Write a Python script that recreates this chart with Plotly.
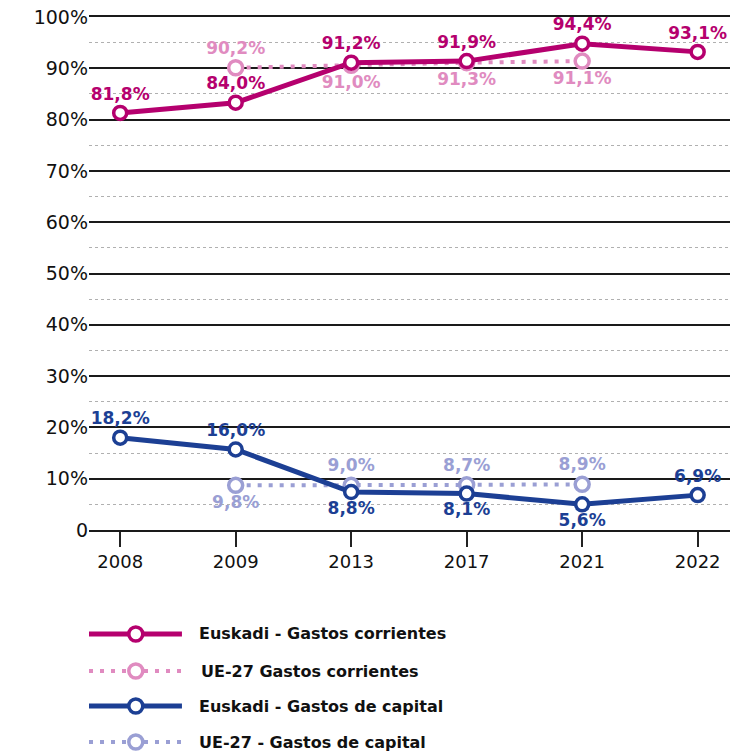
import plotly.graph_objects as go

years = ["2008", "2009", "2013", "2017", "2021", "2022"]
eus_corr = [81.3, 83.3, 91.1, 91.4, 94.8, 93.2]
eus_corr_txt = ["81,8%", "84,0%", "91,2%", "91,9%", "94,4%", "93,1%"]
eus_cap = [18.0, 15.7, 7.4, 7.1, 5.0, 6.8]
eus_cap_txt = ["18,2%", "16,0%", "8,8%", "8,1%", "5,6%", "6,9%"]

ue_years = ["2009", "2013", "2017", "2021"]
ue_corr = [90.1, 90.6, 91.1, 91.4]
ue_corr_txt = ["90,2%", "91,0%", "91,3%", "91,1%"]
ue_cap = [8.7, 8.7, 8.8, 8.9]
ue_cap_txt = ["9,8%", "9,0%", "8,7%", "8,9%"]

y_ticks = [0, 10, 20, 30, 40, 50, 60, 70, 80, 90, 100]
y_ticktext = ["0", "10%", "20%", "30%", "40%", "50%", "60%", "70%", "80%", "90%", "100%"]

MAGENTA = "#B5006E"
PINK = "#E08BC0"
BLUE = "#1C3F94"
LAVENDER = "#9A9FD4"
FONT = "DejaVu Sans"

fig = go.Figure()


def add_series(x, y, txt, pos, color, dotted, ring):
    fig.add_trace(go.Scatter(
        x=x, y=y, mode="lines+markers+text", text=txt, textposition=pos,
        textfont=dict(family=FONT, size=17, color=color, weight="bold"),
        line=dict(color=color, width=4 if dotted else 5, dash="4px,7px" if dotted else "solid"),
        marker=dict(size=ring, color="white", line=dict(color=color, width=3.5)),
        cliponaxis=False, showlegend=False, hoverinfo="skip"))


add_series(ue_years, ue_corr, ue_corr_txt,
           ["top center", "bottom center", "bottom center", "bottom center"], PINK, True, 14)
add_series(ue_years, ue_cap, ue_cap_txt,
           ["bottom center", "top center", "top center", "top center"], LAVENDER, True, 14)
add_series(years, eus_corr, eus_corr_txt, ["top center"] * 6, MAGENTA, False, 13)
add_series(years, eus_cap, eus_cap_txt,
           ["top center", "top center", "bottom center", "bottom center", "bottom center", "top center"],
           BLUE, False, 13)

# custom legend below the plot (paper coords)
legend_items = [
    ("Euskadi - Gastos corrientes", MAGENTA, False, -0.2027, 0.168),
    ("UE-27 Gastos corrientes", PINK, True, -0.2749, 0.172),
    ("Euskadi - Gastos de capital", BLUE, False, -0.3431, 0.168),
    ("UE-27 - Gastos de capital", LAVENDER, True, -0.4133, 0.168),
]
shapes = []
annotations = []
for name, col, dotted, yy, tx in legend_items:
    shapes.append(dict(type="line", xref="paper", yref="paper", x0=0.0, x1=0.145, y0=yy, y1=yy,
                       line=dict(color=col, width=4 if dotted else 5, dash="4px,7px" if dotted else "solid")))
    shapes.append(dict(type="circle", xref="paper", yref="paper", xsizemode="pixel", ysizemode="pixel",
                       xanchor=0.073, yanchor=yy, x0=-7, x1=7, y0=-7, y1=7,
                       fillcolor="white", line=dict(color=col, width=3.5)))
    annotations.append(dict(x=tx, y=yy, xref="paper", yref="paper", text="<b>" + name + "</b>",
                            showarrow=False, xanchor="left", yanchor="middle",
                            font=dict(family=FONT, size=16, color="#111")))

fig.update_layout(
    width=747, height=752,
    margin=dict(l=89, r=17, t=17, b=222),
    plot_bgcolor="white", paper_bgcolor="white",
    font=dict(family=FONT, color="#111"),
    shapes=shapes, annotations=annotations,
)
fig.update_xaxes(type="category", categoryorder="array", categoryarray=years,
                 range=[-0.27, 5.28], showgrid=False, zeroline=False, automargin=False,
                 showline=True, mirror=True, linecolor="#1a1a1a", linewidth=1.5,
                 ticks="outside", ticklen=15, tickwidth=1.5, tickcolor="#222",
                 tickfont=dict(family=FONT, size=18, color="#111"))
fig.update_yaxes(range=[0, 100], tickvals=y_ticks, ticktext=y_ticktext, showgrid=True,
                 gridcolor="#1a1a1a", gridwidth=1.5, zeroline=False, showline=False, automargin=False,
                 ticks="", tickfont=dict(family=FONT, size=19, color="#111"),
                 minor=dict(dtick=5, showgrid=True, gridcolor="#b0b0b0", griddash="dot", gridwidth=1))

# drop the default 8px page margin so the figure sits at the window's corner
fig.write_html("out.html", config={"displayModeBar": False},
               post_script="document.body.style.margin='0';")
